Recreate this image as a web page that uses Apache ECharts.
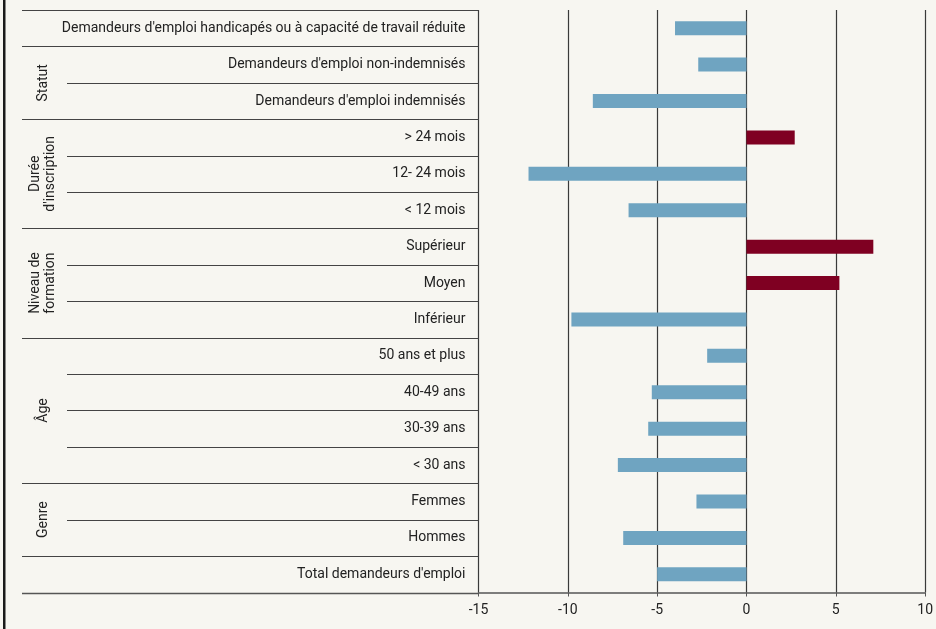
<!DOCTYPE html>
<html><head><meta charset="utf-8">
<script src="https://cdn.jsdelivr.net/npm/echarts@6/dist/echarts.min.js"></script>
<style>html,body{margin:0;padding:0;background:#f7f6f1}#c{width:936px;height:629px}</style>
</head><body><div id="c"></div>
<script>
var categories = [
  "Demandeurs d'emploi handicapés ou à capacité de travail réduite",
  "Demandeurs d'emploi non-indemnisés",
  "Demandeurs d'emploi indemnisés",
  "> 24 mois",
  "12- 24 mois",
  "< 12 mois",
  "Supérieur",
  "Moyen",
  "Inférieur",
  "50 ans et plus",
  "40-49 ans",
  "30-39 ans",
  "< 30 ans",
  "Femmes",
  "Hommes",
  "Total demandeurs d'emploi"
];
var values = [-4.0, -2.7, -8.6, 2.7, -12.2, -6.6, 7.1, 5.2, -9.8, -2.2, -5.3, -5.5, -7.2, -2.8, -6.9, -5.0];
// groups: label, first category index, last category index
var groupLabels = ["Statut", "Durée\nd'inscription", "Niveau de\nformation", "Âge", "Genre"];
var groupStart = [1, 3, 6, 9, 13];
var groupEnd = [2, 5, 8, 12, 14];
var xTicks = [-15, -10, -5, 0, 5, 10];

var BLUE = '#6fa4c1', RED = '#7f0022', INK = '#222';
var chart = echarts.init(document.getElementById('c'));
var option = {
  backgroundColor: '#f7f6f1',
  animation: false,
  grid: { left: 478.5, right: 8.5, top: 10, bottom: 36.5, containLabel: false },
  xAxis: {
    type: 'value', min: xTicks[0], max: xTicks[xTicks.length - 1], interval: 5,
    axisLine: { show: true, onZero: false, lineStyle: { color: '#555', width: 1.5 } },
    axisTick: { show: true, length: 4, lineStyle: { color: '#555' } },
    axisLabel: { color: INK, fontFamily: 'Roboto', fontSize: 14, margin: 11 },
    splitLine: { show: true, lineStyle: { color: '#3a3a3a', width: 1.2 } }
  },
  yAxis: {
    type: 'category', data: categories, inverse: true,
    axisLine: { show: false }, axisTick: { show: false },
    axisLabel: { color: INK, fontFamily: 'Roboto', fontSize: 14, margin: 13, padding: [3, 0, 0, 0] },
    splitLine: { show: false }
  },
  series: [{
    type: 'bar', barWidth: 14,
    data: values.map(function (v) {
      return { value: v, itemStyle: { color: v >= 0 ? RED : BLUE } };
    })
  }]
};
chart.setOption(option);

// table lines and group labels positioned from the axis scale
var y0 = chart.convertToPixel({ yAxisIndex: 0 }, 0);
var y1 = chart.convertToPixel({ yAxisIndex: 0 }, 1);
var band = y1 - y0;
var xL = chart.convertToPixel({ xAxisIndex: 0 }, xTicks[0]);
function boundary(i) { return y0 - band / 2 + i * band; }
var groupBound = {};
groupBound[0] = true; groupBound[categories.length] = true;
groupStart.forEach(function (s) { groupBound[s] = true; });
groupEnd.forEach(function (e) { groupBound[e + 1] = true; });
var g = [];
for (var i = 0; i < categories.length; i++) {
  var yy = Math.round(boundary(i)) + 0.5;
  var startX = groupBound[i] ? 22 : 67;
  g.push({ type: 'line', shape: { x1: startX, y1: yy, x2: xL, y2: yy },
    style: { stroke: '#444', lineWidth: 1.2 }, silent: true });
}
var yb = Math.round(boundary(categories.length)) + 0.5;
g.push({ type: 'line', shape: { x1: 22, y1: yb, x2: xL, y2: yb },
  style: { stroke: '#555', lineWidth: 1.5 }, silent: true });
groupLabels.forEach(function (lab, k) {
  var cy = (boundary(groupStart[k]) + boundary(groupEnd[k] + 1)) / 2;
  g.push({ type: 'text', x: 43, y: cy, rotation: Math.PI / 2,
    style: { text: lab, fill: INK, font: '14px Roboto', align: 'center', verticalAlign: 'middle', lineHeight: 15 },
    silent: true });
});
g.push({ type: 'rect', shape: { x: 3, y: 0, width: 2.5, height: 629 }, style: { fill: '#1a1a1a' }, silent: true });
chart.setOption({ graphic: g });
</script>
</body></html>
